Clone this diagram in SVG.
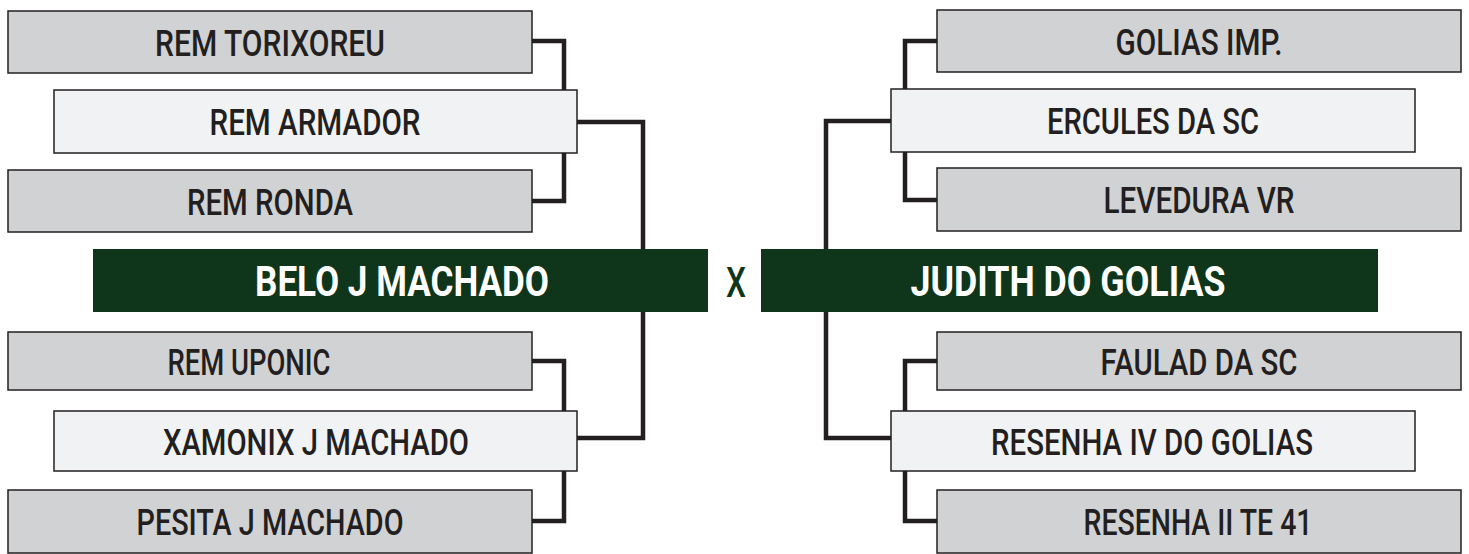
<svg xmlns="http://www.w3.org/2000/svg" width="1469" height="554" viewBox="0 0 1469 554">
<style>
.bg{fill:#ffffff}
.dark{fill:#d1d2d4;stroke:#231f20;stroke-width:1.5}
.light{fill:#f1f2f3;stroke:#231f20;stroke-width:1.5}
.green{fill:#0f361b}
.lbl{font-family:Roboto,"Liberation Sans",sans-serif;font-weight:500;font-size:37px;fill:#231f20;text-anchor:middle}
.big{font-family:Roboto,"Liberation Sans",sans-serif;font-weight:700;font-size:42px;fill:#ffffff;text-anchor:middle}
.vs{font-family:Roboto,"Liberation Sans",sans-serif;font-weight:500;font-size:42px;fill:#0f361b;text-anchor:middle}
.con{fill:none;stroke:#231f20;stroke-width:4.5;stroke-linejoin:miter;stroke-linecap:butt}
</style>
<rect class="bg" x="0" y="0" width="1469" height="554"/>
<g id="connectors">
<path class="con" d="M532 41 H564 V201 H532"/>
<path class="con" d="M577 122 H643 V250"/>
<path class="con" d="M532 361 H564 V521 H532"/>
<path class="con" d="M577 438 H643 V311"/>
<path class="con" d="M937 41 H905 V200 H937"/>
<path class="con" d="M891 121 H826 V250"/>
<path class="con" d="M937 361 H905 V521 H937"/>
<path class="con" d="M891 438 H826 V311"/>
</g>
<g id="n-torixoreu"><rect class="dark" x="8" y="11" width="524" height="62"/><text class="lbl" x="270" y="56" textLength="230" lengthAdjust="spacingAndGlyphs">REM TORIXOREU</text></g>
<g id="n-armador"><rect class="light" x="54" y="90" width="523" height="63"/><text class="lbl" x="315" y="135" textLength="211" lengthAdjust="spacingAndGlyphs">REM ARMADOR</text></g>
<g id="n-ronda"><rect class="dark" x="8" y="170" width="524" height="62"/><text class="lbl" x="270" y="215" textLength="166" lengthAdjust="spacingAndGlyphs">REM RONDA</text></g>
<g id="n-belo"><rect class="green" x="93" y="249" width="615" height="63"/><text class="big" x="402" y="296" textLength="294" lengthAdjust="spacingAndGlyphs">BELO J MACHADO</text></g>
<g id="n-x"><text class="vs" x="736" y="297" textLength="20" lengthAdjust="spacingAndGlyphs">X</text></g>
<g id="n-judith"><rect class="green" x="761" y="249" width="617" height="63"/><text class="big" x="1068" y="296" textLength="315" lengthAdjust="spacingAndGlyphs">JUDITH DO GOLIAS</text></g>
<g id="n-uponic"><rect class="dark" x="8" y="332" width="524" height="58"/><text class="lbl" x="249" y="375" textLength="163" lengthAdjust="spacingAndGlyphs">REM UPONIC</text></g>
<g id="n-xamonix"><rect class="light" x="54" y="411" width="523" height="60"/><text class="lbl" x="316" y="455" textLength="306" lengthAdjust="spacingAndGlyphs">XAMONIX J MACHADO</text></g>
<g id="n-pesita"><rect class="dark" x="8" y="490" width="524" height="63"/><text class="lbl" x="270" y="535" textLength="267" lengthAdjust="spacingAndGlyphs">PESITA J MACHADO</text></g>
<g id="n-golias"><rect class="dark" x="937" y="10" width="524" height="62"/><text class="lbl" x="1199" y="55" textLength="167" lengthAdjust="spacingAndGlyphs">GOLIAS IMP.</text></g>
<g id="n-ercules"><rect class="light" x="891" y="89" width="524" height="63"/><text class="lbl" x="1153" y="134" textLength="212" lengthAdjust="spacingAndGlyphs">ERCULES DA SC</text></g>
<g id="n-levedura"><rect class="dark" x="937" y="168" width="524" height="63"/><text class="lbl" x="1199" y="213" textLength="191" lengthAdjust="spacingAndGlyphs">LEVEDURA VR</text></g>
<g id="n-faulad"><rect class="dark" x="937" y="332" width="524" height="58"/><text class="lbl" x="1199" y="375" textLength="197" lengthAdjust="spacingAndGlyphs">FAULAD DA SC</text></g>
<g id="n-resenha4"><rect class="light" x="891" y="411" width="524" height="60"/><text class="lbl" x="1152" y="455" textLength="322" lengthAdjust="spacingAndGlyphs">RESENHA IV DO GOLIAS</text></g>
<g id="n-resenha2"><rect class="dark" x="937" y="490" width="524" height="63"/><text class="lbl" x="1198" y="535" textLength="229" lengthAdjust="spacingAndGlyphs">RESENHA II TE 41</text></g>
</svg>
